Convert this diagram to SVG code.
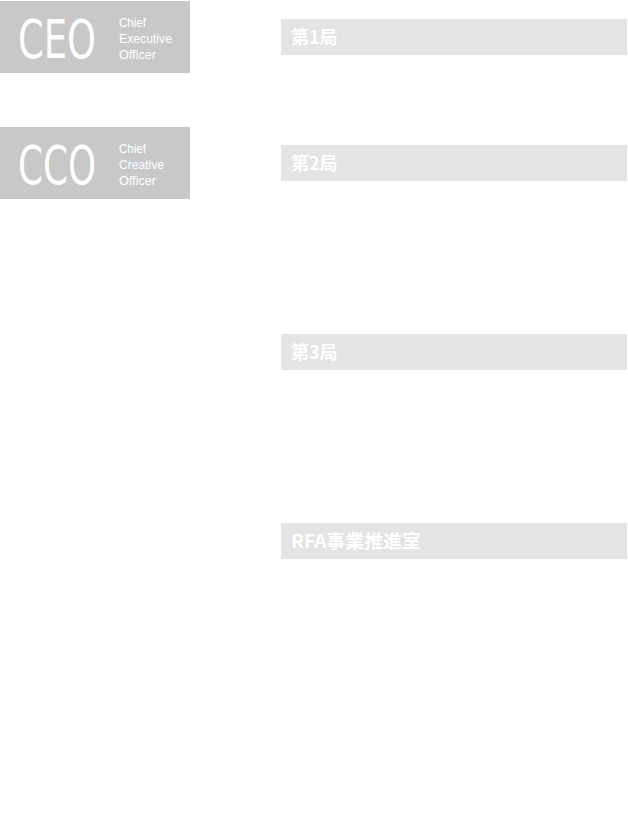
<svg xmlns="http://www.w3.org/2000/svg" width="628" height="813" viewBox="0 0 628 813">
<style>
.role{fill:#c8c8c8}
.big{font-family:"DejaVu Sans Condensed","Liberation Sans",sans-serif;font-size:54px;fill:#fff;font-weight:200}
.sm{font-family:"Liberation Sans",sans-serif;font-size:12px;fill:#fff}
.hd{fill:#e4e4e4}
.ht{font-family:"Noto Sans CJK JP","Noto Sans",sans-serif;font-size:18px;font-weight:bold;fill:#fff}
</style>
<rect width="628" height="813" fill="#fff"/>
<g id="ceo">
<rect class="role" x="0" y="1" width="190" height="72"/>
<text class="big" x="18" y="58" textLength="78" lengthAdjust="spacingAndGlyphs">CEO</text>
<text class="sm" x="119" y="27" textLength="27" lengthAdjust="spacingAndGlyphs">Chief</text>
<text class="sm" x="119" y="43" textLength="53" lengthAdjust="spacingAndGlyphs">Executive</text>
<text class="sm" x="119" y="59" textLength="37" lengthAdjust="spacingAndGlyphs">Officer</text>
</g>
<g id="cco">
<rect class="role" x="0" y="127" width="190" height="72"/>
<text class="big" x="18" y="184" textLength="78" lengthAdjust="spacingAndGlyphs">CCO</text>
<text class="sm" x="119" y="153" textLength="27" lengthAdjust="spacingAndGlyphs">Chief</text>
<text class="sm" x="119" y="169" textLength="45" lengthAdjust="spacingAndGlyphs">Creative</text>
<text class="sm" x="119" y="185" textLength="37" lengthAdjust="spacingAndGlyphs">Officer</text>
</g>
<g id="dept1"><rect class="hd" x="281" y="19" width="346" height="36"/><text class="ht" x="291" y="44">第1局</text></g>
<g id="dept2"><rect class="hd" x="281" y="145" width="346" height="36"/><text class="ht" x="291" y="170">第2局</text></g>
<g id="dept3"><rect class="hd" x="281" y="334" width="346" height="36"/><text class="ht" x="291" y="359">第3局</text></g>
<g id="rfa"><rect class="hd" x="281" y="523" width="346" height="36"/><text class="ht" x="291" y="548" textLength="130" lengthAdjust="spacingAndGlyphs">RFA事業推進室</text></g>
<g id="connectors"/>
</svg>
